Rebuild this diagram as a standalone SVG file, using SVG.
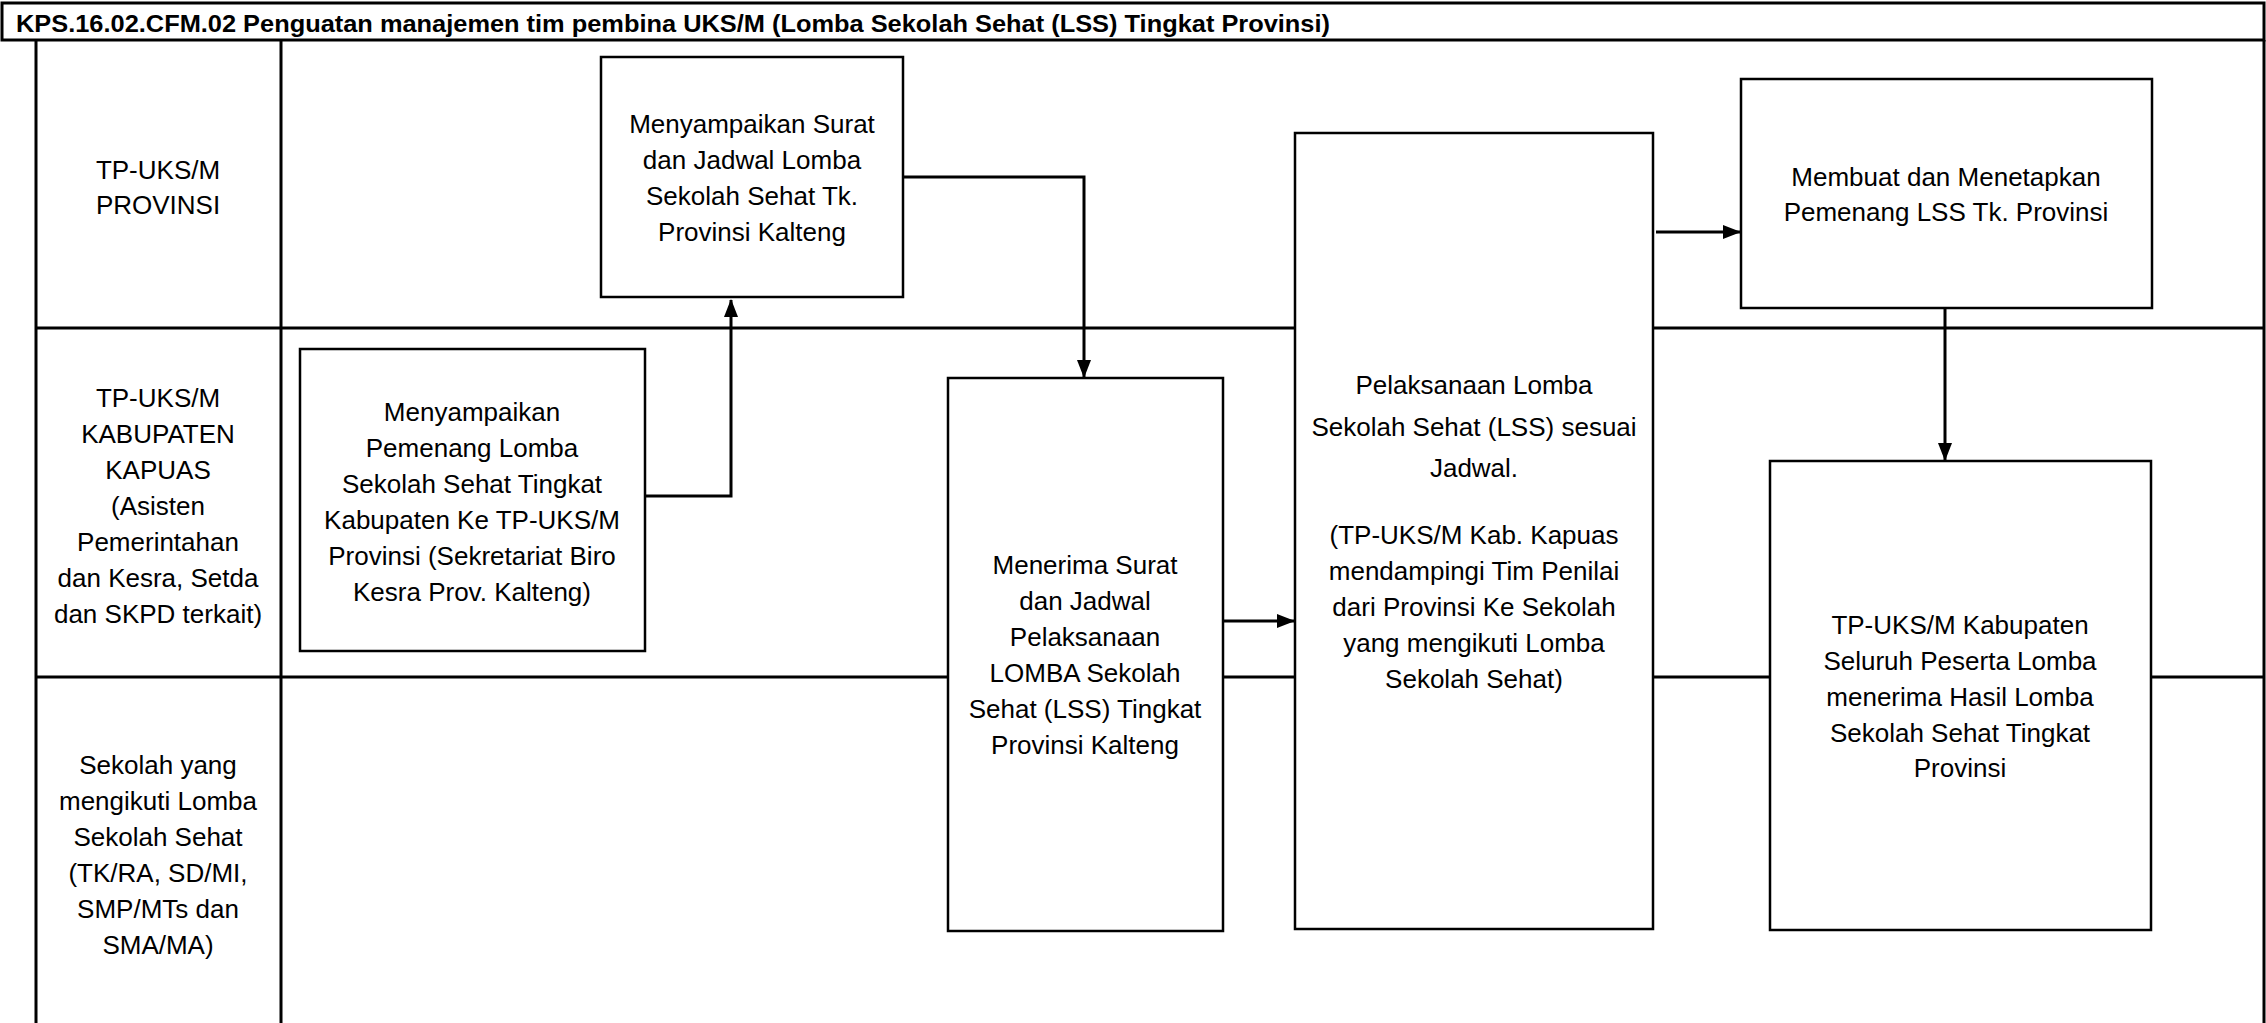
<svg xmlns="http://www.w3.org/2000/svg" width="2266" height="1023" viewBox="0 0 2266 1023">
<style>
.lane{stroke:#000;stroke-width:3;fill:none}
.box{fill:#fff;stroke:#000;stroke-width:2.5}
.t{font-family:"Liberation Sans",Arial,sans-serif;font-size:26px;fill:#000;text-anchor:middle}
.title{font-family:"Liberation Sans",Arial,sans-serif;font-size:24px;font-weight:bold;fill:#000}
.conn{stroke:#000;stroke-width:3;fill:none}
</style>
<defs>
<marker id="ah" markerUnits="userSpaceOnUse" markerWidth="18" markerHeight="14" refX="17" refY="7" orient="auto">
<path d="M0,0 L18,7 L0,14 z" fill="#000"/>
</marker>
</defs>
<rect x="0" y="0" width="2266" height="1023" fill="#fff"/>
<g id="frame">
<rect class="lane" x="2" y="3" width="2262" height="37"/>
<text class="title" x="16" y="32" textLength="1314" lengthAdjust="spacingAndGlyphs">KPS.16.02.CFM.02 Penguatan manajemen tim pembina UKS/M (Lomba Sekolah Sehat (LSS) Tingkat Provinsi)</text>
<line class="lane" x1="36" y1="40" x2="36" y2="1023"/>
<line class="lane" x1="281" y1="40" x2="281" y2="1023"/>
<line class="lane" x1="2264" y1="40" x2="2264" y2="1023"/>
<line class="lane" x1="36" y1="328" x2="2264" y2="328"/>
<line class="lane" x1="36" y1="677" x2="2264" y2="677"/>
</g>
<g id="lane-provinsi">
<text class="t" x="158" y="179">TP-UKS/M</text>
<text class="t" x="158" y="214">PROVINSI</text>
</g>
<g id="lane-kabupaten">
<text class="t" x="158" y="407">TP-UKS/M</text>
<text class="t" x="158" y="443">KABUPATEN</text>
<text class="t" x="158" y="479">KAPUAS</text>
<text class="t" x="158" y="515">(Asisten</text>
<text class="t" x="158" y="551">Pemerintahan</text>
<text class="t" x="158" y="587">dan Kesra, Setda</text>
<text class="t" x="158" y="623">dan SKPD terkait)</text>
</g>
<g id="lane-sekolah">
<text class="t" x="158" y="774">Sekolah yang</text>
<text class="t" x="158" y="810">mengikuti Lomba</text>
<text class="t" x="158" y="846">Sekolah Sehat</text>
<text class="t" x="158" y="882">(TK/RA, SD/MI,</text>
<text class="t" x="158" y="918">SMP/MTs dan</text>
<text class="t" x="158" y="954">SMA/MA)</text>
</g>
<g id="connectors">
<path class="conn" d="M645,496 H731 V300" marker-end="url(#ah)"/>
<path class="conn" d="M903,177 H1084 V377" marker-end="url(#ah)"/>
<path class="conn" d="M1223,621 H1294" marker-end="url(#ah)"/>
<path class="conn" d="M1656,232 H1740" marker-end="url(#ah)"/>
<path class="conn" d="M1945,308 V460" marker-end="url(#ah)"/>
</g>
<g id="node-a">
<rect class="box" x="601" y="57" width="302" height="240"/>
<text class="t" x="752" y="133">Menyampaikan Surat</text>
<text class="t" x="752" y="169">dan Jadwal Lomba</text>
<text class="t" x="752" y="205">Sekolah Sehat Tk.</text>
<text class="t" x="752" y="241">Provinsi Kalteng</text>
</g>
<g id="node-b">
<rect class="box" x="300" y="349" width="345" height="302"/>
<text class="t" x="472" y="421">Menyampaikan</text>
<text class="t" x="472" y="457">Pemenang Lomba</text>
<text class="t" x="472" y="493">Sekolah Sehat Tingkat</text>
<text class="t" x="472" y="529">Kabupaten Ke TP-UKS/M</text>
<text class="t" x="472" y="565">Provinsi (Sekretariat Biro</text>
<text class="t" x="472" y="601">Kesra Prov. Kalteng)</text>
</g>
<g id="node-c">
<rect class="box" x="948" y="378" width="275" height="553"/>
<text class="t" x="1085" y="574">Menerima Surat</text>
<text class="t" x="1085" y="610">dan Jadwal</text>
<text class="t" x="1085" y="646">Pelaksanaan</text>
<text class="t" x="1085" y="682">LOMBA Sekolah</text>
<text class="t" x="1085" y="718">Sehat (LSS) Tingkat</text>
<text class="t" x="1085" y="754">Provinsi Kalteng</text>
</g>
<g id="node-d">
<rect class="box" x="1295" y="133" width="358" height="796"/>
<text class="t" x="1474" y="394">Pelaksanaan Lomba</text>
<text class="t" x="1474" y="436">Sekolah Sehat (LSS) sesuai</text>
<text class="t" x="1474" y="477">Jadwal.</text>
<text class="t" x="1474" y="544">(TP-UKS/M Kab. Kapuas</text>
<text class="t" x="1474" y="580">mendampingi Tim Penilai</text>
<text class="t" x="1474" y="616">dari Provinsi Ke Sekolah</text>
<text class="t" x="1474" y="652">yang mengikuti Lomba</text>
<text class="t" x="1474" y="688">Sekolah Sehat)</text>
</g>
<g id="node-e">
<rect class="box" x="1741" y="79" width="411" height="229"/>
<text class="t" x="1946" y="186">Membuat dan Menetapkan</text>
<text class="t" x="1946" y="221">Pemenang LSS Tk. Provinsi</text>
</g>
<g id="node-f">
<rect class="box" x="1770" y="461" width="381" height="469"/>
<text class="t" x="1960" y="634">TP-UKS/M Kabupaten</text>
<text class="t" x="1960" y="670">Seluruh Peserta Lomba</text>
<text class="t" x="1960" y="706">menerima Hasil Lomba</text>
<text class="t" x="1960" y="742">Sekolah Sehat Tingkat</text>
<text class="t" x="1960" y="777">Provinsi</text>
</g>
</svg>
